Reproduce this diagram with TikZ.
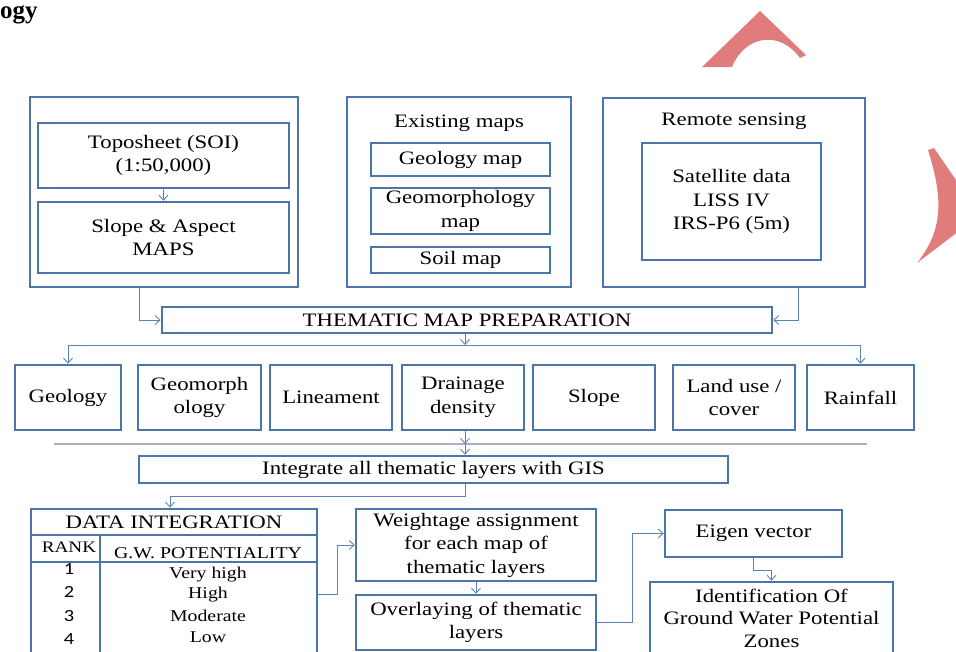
\documentclass[tikz,border=0pt]{standalone}
\usepackage{fontspec}
\setmainfont{Liberation Serif}[FakeStretch=1.2]
\newfontfamily\numfont{Carlito}[FakeStretch=1.2]
\newfontfamily\titlefont{Liberation Serif}
\usetikzlibrary{arrows.meta,calc}
\definecolor{bordercol}{RGB}{76,118,168}
\definecolor{conncol}{RGB}{90,130,180}
\definecolor{greyline}{RGB}{168,178,195}
\definecolor{wmred}{RGB}{224,124,124}
\newcommand{\fs}{\fontsize{19}{23.5}\selectfont}
\tikzset{
  box/.style={draw=bordercol, line width=2.5pt, inner sep=0pt, align=center, font=\fs},
  conn/.style={draw=conncol, line width=0.9pt, -{Straight Barb[length=5pt,width=9pt]}},
  tline/.style={draw=bordercol, line width=2.5pt},
  lbl/.style={inner sep=0pt, align=center, font=\fs},
}
\begin{document}
\begin{tikzpicture}[x=1pt,y=-1pt]
\useasboundingbox (0,0) rectangle (956,651);
\clip (0,0) rectangle (956,651);
% title fragment
\node[anchor=base west, inner sep=0pt, font=\titlefont\bfseries\fontsize{25}{30}\selectfont] (title) at (0,18) {ogy};
% watermark shapes
\fill[wmred] (702,67) -- (760,11) -- (806,55) -- (800,58) .. controls (780,30) and (745,35) .. (732,67) -- cycle;
\fill[wmred] (928,150) -- (934,148) -- (980,215) -- (917,263) .. controls (945,228) and (942,195) .. (928,150) -- cycle;
% top group 1
\node[box, minimum width=268pt, minimum height=190pt] (out1) at (164,192) {};
\node[box, minimum width=251pt, minimum height=65pt] (topo) at (163.5,155.5) {Toposheet (SOI)\\(1:50,000)};
\node[box, minimum width=251pt, minimum height=71pt] (slope) at (163.5,237.5) {Slope \& Aspect\\MAPS};
\draw[conn] (topo.south) -- (slope.north);
% top group 2
\node[box, minimum width=224pt, minimum height=190pt] (out2) at (459,192) {};
\node[lbl] (exist) at (459,123) {Existing maps};
\node[box, minimum width=179pt, minimum height=33pt] (geomap) at (460.5,159.5) {Geology map};
\node[box, minimum width=179pt, minimum height=46pt] (gmmap) at (460.5,211) {Geomorphology\\map};
\node[box, minimum width=179pt, minimum height=26pt] (soilmap) at (460.5,260) {Soil map};
% top group 3
\node[box, minimum width=262pt, minimum height=189pt] (out3) at (734,192.5) {};
\node[lbl] (remote) at (734,121) {Remote sensing};
\node[box, minimum width=179pt, minimum height=117pt] (sat) at (731.5,201.5) {Satellite data\\LISS IV\\IRS-P6 (5m)};
% thematic
\node[box, minimum width=610pt, minimum height=26pt] (them) at (467,320) {THEMATIC MAP PREPARATION};
\draw[conn] ([xshift=-25pt]out1.south) |- (them.west);
\draw[conn] ([xshift=64pt]out3.south) |- (them.east);
% row
\node[box, minimum width=106pt, minimum height=65pt] (geo) at (68,397.5) {Geology};
\node[box, minimum width=123pt, minimum height=65pt] (gm) at (199.5,397.5) {Geomorph\\ology};
\node[box, minimum width=122pt, minimum height=65pt] (lin) at (331,397.5) {Lineament};
\node[box, minimum width=122pt, minimum height=65pt] (drain) at (463,397.5) {Drainage\\density};
\node[box, minimum width=122pt, minimum height=65pt] (slp) at (594,397.5) {Slope};
\node[box, minimum width=122pt, minimum height=65pt] (land) at (734,397.5) {Land use /\\cover};
\node[box, minimum width=107pt, minimum height=65pt] (rain) at (860.5,397.5) {Rainfall};
\coordinate (br) at (465,345);
\draw[conn] (them.south -| br) -- (br);
\draw[conn] (br) -| (geo.north);
\draw[conn] (br) -| (rain.north);
% grey separator
\coordinate (gl) at (54,444);
\coordinate (gr) at (867,444);
\coordinate (g) at (465,444);
\draw[greyline, line width=2.2pt] (gl) -- (gr);
% integrate
\node[box, minimum width=589pt, minimum height=27pt] (integ) at (433.5,469.5) {Integrate all thematic layers with GIS};
\draw[conn] (drain.south -| g) -- (g);
\draw[conn] (g) -- (integ.north -| g);
% data integration table
\node[box, minimum width=286pt, minimum height=171pt] (dataint) at (174,594.5) {};
\coordinate (hl1) at (31,535);
\coordinate (hr1) at (317,535);
\coordinate (hl2) at (31,562);
\coordinate (hr2) at (317,562);
\coordinate (vt) at (100,535);
\coordinate (vb) at (100,690);
\draw[tline] (hl1) -- (hr1);
\draw[tline] (hl2) -- (hr2);
\draw[tline] (vt) -- (vb);
\node[lbl] (dtitle) at (174,522) {DATA INTEGRATION};
\node[lbl, font=\fontsize{16}{19}\selectfont] (rank) at (69,547) {RANK};
\node[lbl, font=\fontsize{16.5}{19}\selectfont] (gwp) at (208,553) {G.W. POTENTIALITY};
\node[lbl, font=\numfont\fontsize{17}{20}\selectfont] (r1) at (69,569) {1};
\node[lbl, font=\numfont\fontsize{17}{20}\selectfont] (r2) at (69,592) {2};
\node[lbl, font=\numfont\fontsize{17}{20}\selectfont] (r3) at (69,616) {3};
\node[lbl, font=\numfont\fontsize{17}{20}\selectfont] (r4) at (69,639) {4};
\node[lbl, font=\fontsize{16.5}{19}\selectfont] (p1) at (208,575) {Very high};
\node[lbl, font=\fontsize{16.5}{19}\selectfont] (p2) at (208,595) {High};
\node[lbl, font=\fontsize{16.5}{19}\selectfont] (p3) at (208,616) {Moderate};
\node[lbl, font=\fontsize{16.5}{19}\selectfont] (p4) at (208,637) {Low};
\draw[conn] (integ.south -| g) -- ++(0,12) -| ([xshift=-4pt]dataint.north);
% weightage & overlay
\node[box, minimum width=240pt, minimum height=72pt] (weight) at (476,545) {Weightage assignment\\for each map of\\thematic layers};
\node[box, minimum width=240pt, minimum height=55pt] (overlay) at (476,622.5) {Overlaying of thematic\\layers};
\draw[conn] (dataint.east) -- ++(19,0) |- (weight.west);
\draw[conn] (weight.south) -- (overlay.north);
% eigen & identification
\node[box, minimum width=177pt, minimum height=47pt] (eigen) at (753.5,533.5) {Eigen vector};
\node[box, minimum width=243pt, minimum height=72pt, font=\fontsize{19}{22.5}\selectfont] (ident) at (771.5,618) {Identification Of\\Ground Water Potential\\Zones};
\draw[conn] (overlay.east) -- ++(35,0) |- (eigen.west);
\draw[conn] (eigen.south) -- ++(0,12) -| (ident.north);
\end{tikzpicture}
\end{document}
